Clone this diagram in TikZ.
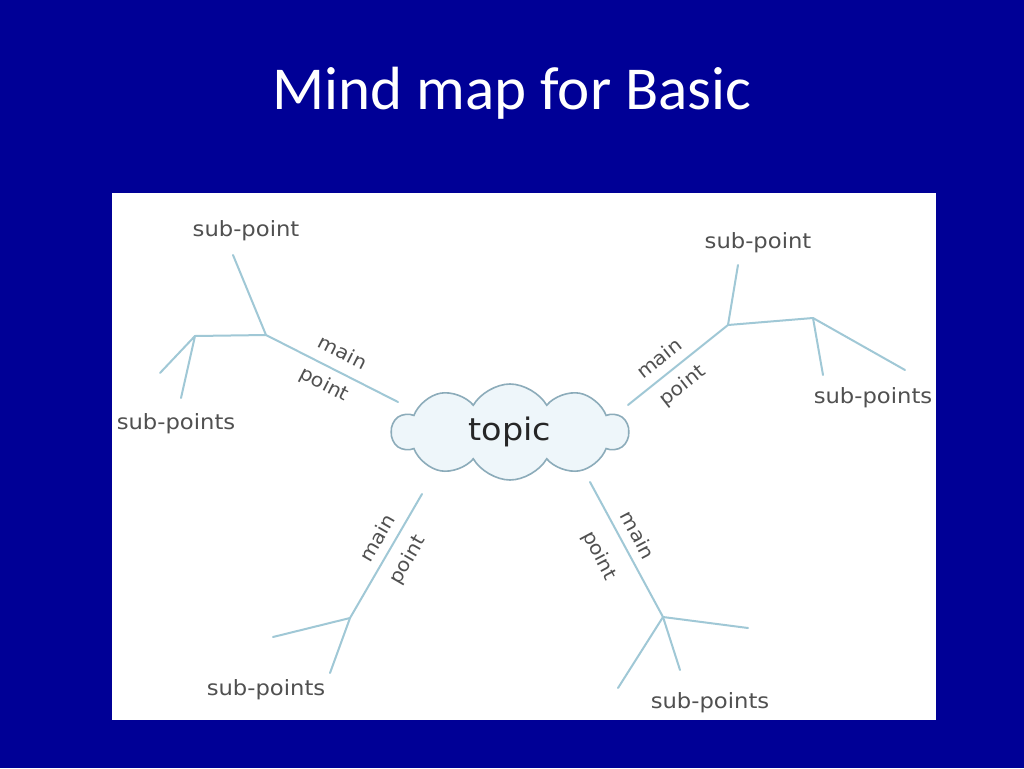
\documentclass[tikz,border=0pt]{standalone}
\usepackage{fontspec}
\setmainfont{Carlito}
\newfontfamily\hand[FakeStretch=1.08]{DejaVu Sans}
\usetikzlibrary{shapes.symbols}
\definecolor{bgblue}{RGB}{0,0,150}
\definecolor{branch}{RGB}{160,200,214}
\definecolor{cloudfill}{RGB}{238,246,250}
\definecolor{cloudline}{RGB}{140,172,186}
\definecolor{labelgray}{RGB}{80,80,80}
\tikzset{
  branchline/.style={draw=branch, line width=2pt, line cap=round, line join=round},
  sublabel/.style={font=\hand\fontsize{21}{21}\selectfont, text=labelgray, inner sep=1pt},
  mainlabel/.style={font=\hand\fontsize{19}{19}\selectfont, text=labelgray, inner sep=1pt},
  topiccloud/.style={cloud, cloud puffs=10, cloud puff arc=120, cloud ignores aspect,
    minimum width=236pt, minimum height=96pt, draw=cloudline, line width=1.6pt, fill=cloudfill,
    font=\hand\fontsize{31}{31}\selectfont, text=black!85}
}
\begin{document}
\begin{tikzpicture}[x=1pt,y=-1pt]
\useasboundingbox (0,0) rectangle (1024,768);
\fill[bgblue] (0,0) rectangle (1024,768);
\node[text=white, font=\fontsize{61}{61}\selectfont] (title) at (512,93) {Mind map for Basic};
\fill[white] (112,193) rectangle (936,720);

% coordinates
\coordinate (j1) at (266,335);
\coordinate (k1) at (195,336);
\coordinate (e1) at (398,402);
\coordinate (a1) at (233,255);
\coordinate (b1) at (160,373);
\coordinate (c1) at (181,398);

\coordinate (j2) at (728,325);
\coordinate (k2) at (813,318);
\coordinate (e2) at (628,405);
\coordinate (a2) at (738,265);
\coordinate (b2) at (823,375);
\coordinate (c2) at (905,370);

\coordinate (j3) at (350,618);
\coordinate (e3) at (422,494);
\coordinate (b3) at (273,637);
\coordinate (c3) at (330,673);

\coordinate (j4) at (663,617);
\coordinate (e4) at (590,482);
\coordinate (a4) at (748,628);
\coordinate (b4) at (680,670);
\coordinate (c4) at (618,688);

% branches
\draw[branchline] (e1) -- (j1) -- (k1) -- (b1);
\draw[branchline] (k1) -- (c1);
\draw[branchline] (j1) -- (a1);

\draw[branchline] (e2) -- (j2) -- (k2) -- (b2);
\draw[branchline] (k2) -- (c2);
\draw[branchline] (j2) -- (a2);

\draw[branchline] (e3) -- (j3) -- (b3);
\draw[branchline] (j3) -- (c3);

\draw[branchline] (e4) -- (j4) -- (a4);
\draw[branchline] (j4) -- (b4);
\draw[branchline] (j4) -- (c4);

% topic
\node[topiccloud] (topic) at (510,432) {topic};

% labels
\node[sublabel] (sp1) at (246,231) {sub-point};
\node[sublabel] (sps1) at (176,424) {sub-points};
\node[mainlabel, rotate=-27] (m1) at (343,352) {main};
\node[mainlabel, rotate=-27] (p1) at (324,385) {point};

\node[sublabel] (sp2) at (758,243) {sub-point};
\node[sublabel] (sps2) at (873,398) {sub-points};
\node[mainlabel, rotate=38] (m2) at (659,358) {main};
\node[mainlabel, rotate=38] (p2) at (683,386) {point};

\node[sublabel] (sps3) at (266,690) {sub-points};
\node[mainlabel, rotate=60] (m3) at (377,538) {main};
\node[mainlabel, rotate=60] (p3) at (408,560) {point};

\node[sublabel] (sps4) at (710,703) {sub-points};
\node[mainlabel, rotate=-62] (m4) at (638,535) {main};
\node[mainlabel, rotate=-62] (p4) at (599,556) {point};
\end{tikzpicture}
\end{document}
